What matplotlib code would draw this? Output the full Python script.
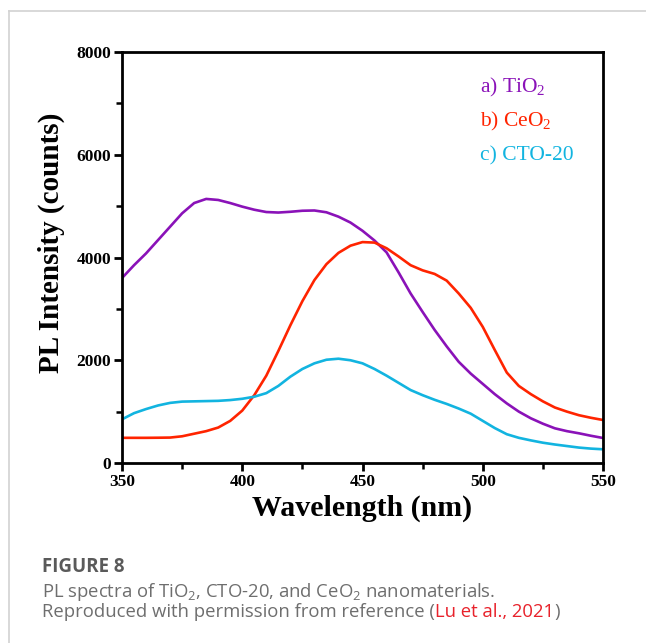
import matplotlib
matplotlib.use("Agg")
import matplotlib.pyplot as plt
from matplotlib.lines import Line2D
from matplotlib.ticker import MultipleLocator

plt.rcParams['mathtext.fontset'] = 'custom'
plt.rcParams['mathtext.rm'] = 'Liberation Serif'
plt.rcParams['mathtext.sf'] = 'Open Sans'

wavelength = [350, 355, 360, 365, 370, 375, 380, 385, 390, 395, 400, 405, 410, 415,
              420, 425, 430, 435, 440, 445, 450, 455, 460, 465, 470, 475, 480, 485,
              490, 495, 500, 505, 510, 515, 520, 525, 530, 535, 540, 545, 550]
tio2 = [3600, 3850, 4080, 4340, 4600, 4860, 5060, 5140, 5120, 5060, 4990, 4930, 4885, 4875,
        4890, 4910, 4915, 4880, 4795, 4680, 4520, 4330, 4100, 3710, 3300, 2940, 2590, 2270,
        1970, 1740, 1540, 1340, 1160, 1000, 870, 765, 675, 620, 578, 530, 487]
ceo2 = [490, 490, 490, 492, 495, 520, 570, 620, 690, 820, 1020, 1320, 1700, 2180,
        2680, 3150, 3560, 3870, 4090, 4230, 4300, 4290, 4180, 4020, 3850, 3750, 3680, 3550,
        3300, 3020, 2650, 2200, 1760, 1500, 1340, 1200, 1080, 1000, 930, 880, 837]
cto20 = [850, 970, 1050, 1120, 1170, 1195, 1200, 1205, 1210, 1225, 1250, 1290, 1360, 1500,
         1680, 1830, 1940, 2010, 2030, 2000, 1940, 1830, 1700, 1560, 1420, 1320, 1230, 1150,
         1060, 960, 820, 680, 560, 490, 440, 395, 360, 330, 300, 280, 267]

labels = [r"a) TiO$_2$", r"b) CeO$_2$", "c) CTO-20"]
colors = ["#8A12B8", "#FF2400", "#12B4E0"]
series = [tio2, ceo2, cto20]

W, H = 646, 643
fig = plt.figure(figsize=(W / 100, H / 100), dpi=100)
ax = fig.add_axes([122 / W, 1 - 463 / H, (603 - 122) / W, (463 - 52) / H])

for ys, c in zip(series, colors):
    ax.plot(wavelength, ys, color=c, lw=1.9, solid_capstyle='round', solid_joinstyle='round')

ax.set_xlim(350, 550)
ax.set_ylim(0, 8000)
ax.xaxis.set_major_locator(MultipleLocator(50))
ax.xaxis.set_minor_locator(MultipleLocator(25))
ax.yaxis.set_major_locator(MultipleLocator(2000))
ax.yaxis.set_minor_locator(MultipleLocator(1000))
for s in ax.spines.values():
    s.set_linewidth(2.0)
ax.tick_params(which='major', direction='out', length=6, width=2, labelsize=12.5, pad=2)
ax.tick_params(which='minor', direction='out', length=4, width=1.8)
for lab in ax.get_xticklabels() + ax.get_yticklabels():
    lab.set_fontfamily('Liberation Serif')
    lab.set_fontweight('bold')

ax.set_xlabel("Wavelength (nm)", fontfamily='Liberation Serif', fontweight='bold',
              fontsize=21.5, labelpad=3)
ax.set_ylabel("PL Intensity (counts)", fontfamily='Liberation Serif', fontweight='bold',
              fontsize=21)
ax.yaxis.set_label_coords(-57 / 481, (463 - 243) / 411)

for i, (lab, c) in enumerate(zip(labels, colors)):
    fig.text(480 / W, 1 - (92 + 34 * i) / H, lab, color=c, fontsize=15.5,
             fontfamily='Liberation Serif', ha='left', va='baseline')

# page frame lines
fig.add_artist(Line2D([9 / W, 9 / W], [0, 1 - 11 / H], color='#d2d2d2', lw=1.2))
fig.add_artist(Line2D([9 / W, 1], [1 - 11 / H, 1 - 11 / H], color='#d2d2d2', lw=1.2))

# caption
x0 = 42
cap_kw = dict(fontfamily='Open Sans', fontsize=13.3, ha='left', va='baseline')
fig.text(x0 / W, 1 - 572 / H, "FIGURE 8", color='#5a5a5a', fontweight='bold',
         fontfamily='Open Sans', fontsize=13.5, ha='left', va='baseline')
fig.text(x0 / W, 1 - 597 / H,
         r"PL spectra of TiO$_\mathsf{2}$, CTO-20, and CeO$_\mathsf{2}$ nanomaterials.",
         color='#6e6e6e', **cap_kw)
t1 = fig.text(x0 / W, 1 - 617 / H, "Reproduced with permission from reference (",
              color='#6e6e6e', **cap_kw)
fig.canvas.draw()
r = fig.canvas.get_renderer()
bb = t1.get_window_extent(r)
t2 = fig.text(bb.x1 / W, 1 - 617 / H, "Lu et al., 2021", color='#E8222B', **cap_kw)
bb2 = t2.get_window_extent(r)
fig.text(bb2.x1 / W, 1 - 617 / H, ")", color='#6e6e6e', **cap_kw)

fig.savefig("out.png", dpi=100)
